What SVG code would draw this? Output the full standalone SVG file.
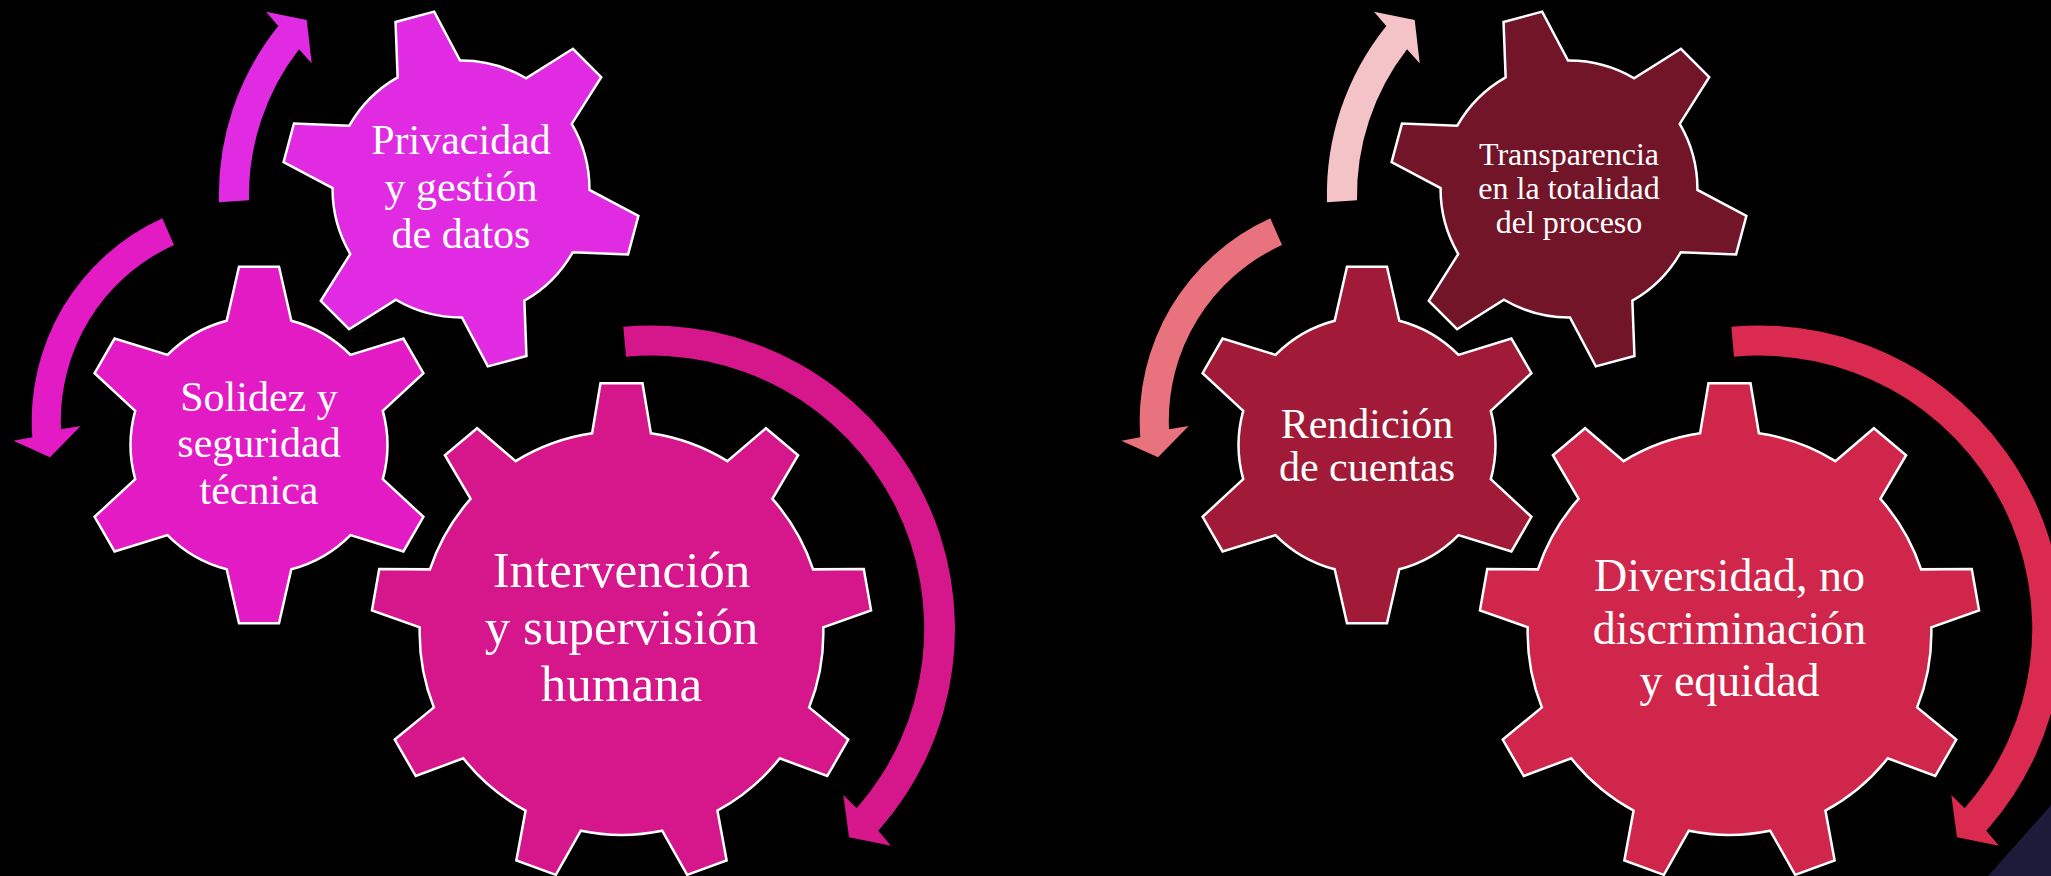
<svg xmlns="http://www.w3.org/2000/svg" xmlns:xlink="http://www.w3.org/1999/xlink" width="2051" height="876" viewBox="0 0 2051 876">
<style>
.gear{stroke:#FFFFFF;stroke-width:2.5;stroke-linejoin:miter}
.lbl{font-family:"Liberation Serif","Times New Roman",serif;fill:#FFFFFF;text-anchor:middle}
.f42{font-size:42px}
.f32{font-size:32px}
.f51{font-size:51px}
.f46{font-size:46px}
</style>
<defs>
<path id="gear6" d="M-32.3,-124.3 L-20,-178.3 L20,-178.3 L32.3,-124.3 A128.4,128.4 0 0 1 91.49,-90.12 L144.41,-106.47 L164.41,-71.83 L123.79,-34.18 A128.4,128.4 0 0 1 123.79,34.18 L164.41,71.83 L144.41,106.47 L91.49,90.12 A128.4,128.4 0 0 1 32.3,124.3 L20,178.3 L-20,178.3 L-32.3,124.3 A128.4,128.4 0 0 1 -91.49,90.12 L-144.41,106.47 L-164.41,71.83 L-123.79,34.18 A128.4,128.4 0 0 1 -123.79,-34.18 L-164.41,-71.83 L-144.41,-106.47 L-91.49,-90.12 A128.4,128.4 0 0 1 -32.3,-124.3 Z"/>
<path id="gear9" d="M-29.4,-199.7 L-21,-249.7 L21,-249.7 L29.4,-199.7 A201.85,201.85 0 0 1 105.85,-171.88 L144.41,-204.78 L176.59,-177.78 L150.89,-134.08 A201.85,201.85 0 0 1 191.56,-63.63 L242.27,-64.04 L249.56,-22.68 L201.77,-5.73 A201.85,201.85 0 0 1 187.65,74.39 L226.75,106.66 L205.75,143.04 L158.25,125.31 A201.85,201.85 0 0 1 95.93,177.6 L105.13,227.46 L65.67,241.82 L40.67,197.72 A201.85,201.85 0 0 1 -40.67,197.72 L-65.67,241.82 L-105.13,227.46 L-95.93,177.6 A201.85,201.85 0 0 1 -158.25,125.31 L-205.75,143.04 L-226.75,106.66 L-187.65,74.39 A201.85,201.85 0 0 1 -201.77,-5.73 L-249.56,-22.68 L-242.27,-64.04 L-191.56,-63.63 A201.85,201.85 0 0 1 -150.89,-134.08 L-176.59,-177.78 L-144.41,-204.78 L-105.85,-171.88 A201.85,201.85 0 0 1 -29.4,-199.7 Z"/>
<path id="arrTop" d="M219,202.3 A269,269 0 0 1 278.3,26 L266,11.7 L306.7,20 L311.7,63.3 L299,49.3 A239,239 0 0 0 249,200.3 Z"/>
<path id="arrLeft" d="M162.3,218.3 A222.5,222.5 0 0 0 32.3,437.3 L13.3,440.7 L50,457.3 L80.7,426 L61,429.3 A193,193 0 0 1 174,245 Z"/>
<path id="arrRight" d="M623.3,326.7 A303.6,303.6 0 0 1 878.3,830.7 L891,845.7 L849,837.3 L843.3,795 L856.7,808.3 A273,273 0 0 0 626,356.7 Z"/>
</defs>
<rect x="0" y="0" width="2051" height="876" fill="#000000"/>
<polygon points="2051,805 1988,876 2051,876" fill="#1E1A3A"/>

<g id="connectors">
<use xlink:href="#arrTop" fill="#E02BE2"/>
<use xlink:href="#arrLeft" fill="#E21BC4"/>
<use xlink:href="#arrRight" fill="#D5178B"/>
<use xlink:href="#arrTop" fill="#F4C3C7" transform="translate(1108,0)"/>
<use xlink:href="#arrLeft" fill="#E8737F" transform="translate(1108,0)"/>
<use xlink:href="#arrRight" fill="#DA2A4F" transform="translate(1108,0)"/>
</g>

<g id="node-privacidad">
<use xlink:href="#gear6" class="gear" fill="#E02BE2" transform="translate(461,189) rotate(-15)"/>
<text class="lbl f42" x="461" y="154">Privacidad</text>
<text class="lbl f42" x="461" y="201">y gestión</text>
<text class="lbl f42" x="461" y="248">de datos</text>
</g>

<g id="node-solidez">
<use xlink:href="#gear6" class="gear" fill="#E21BC4" transform="translate(259,445)"/>
<text class="lbl f42" x="259" y="411">Solidez y</text>
<text class="lbl f42" x="259" y="457">seguridad</text>
<text class="lbl f42" x="259" y="504">técnica</text>
</g>

<g id="node-intervencion">
<use xlink:href="#gear9" class="gear" fill="#D5178B" transform="translate(621.5,633)"/>
<text class="lbl f51" x="621.5" y="587">Intervención</text>
<text class="lbl f51" x="621.5" y="644">y supervisión</text>
<text class="lbl f51" x="621.5" y="701">humana</text>
</g>

<g id="node-transparencia">
<use xlink:href="#gear6" class="gear" fill="#731529" transform="translate(1569,189) rotate(-15)"/>
<text class="lbl f32" x="1569" y="165">Transparencia</text>
<text class="lbl f32" x="1569" y="199">en la totalidad</text>
<text class="lbl f32" x="1569" y="233">del proceso</text>
</g>

<g id="node-rendicion">
<use xlink:href="#gear6" class="gear" fill="#A11B38" transform="translate(1367,445)"/>
<text class="lbl f42" x="1367" y="438">Rendición</text>
<text class="lbl f42" x="1367" y="481">de cuentas</text>
</g>

<g id="node-diversidad">
<use xlink:href="#gear9" class="gear" fill="#D1264B" transform="translate(1729.5,633)"/>
<text class="lbl f46" x="1729.5" y="591">Diversidad, no</text>
<text class="lbl f46" x="1729.5" y="644">discriminación</text>
<text class="lbl f46" x="1729.5" y="696">y equidad</text>
</g>
</svg>
